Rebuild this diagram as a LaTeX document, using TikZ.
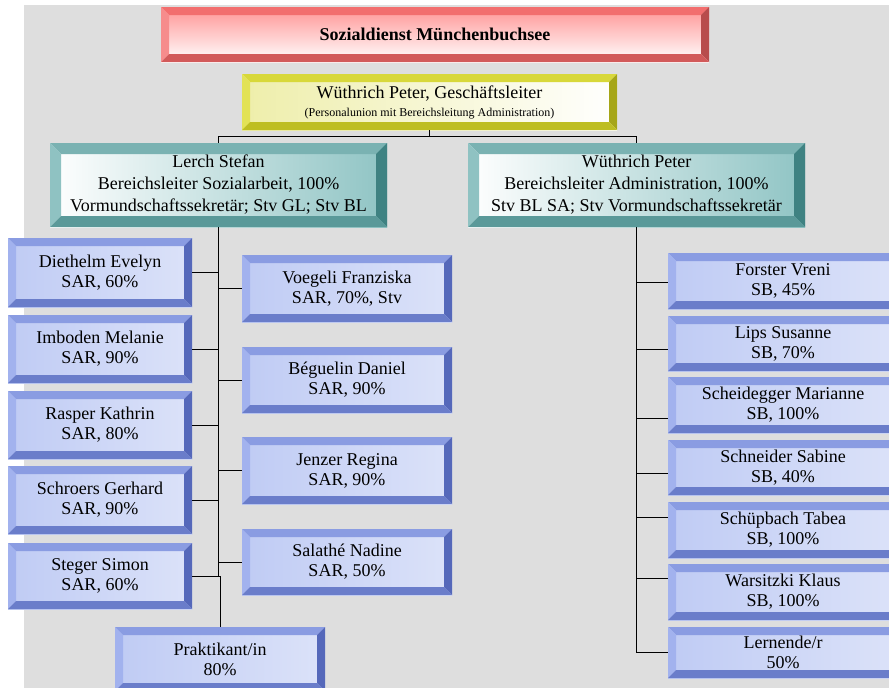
\documentclass[tikz,border=0pt]{standalone}
\usepackage{fontspec}
\setmainfont{Liberation Serif}
\usetikzlibrary{calc}
\definecolor{bg}{HTML}{DEDEDE}
% blue
\definecolor{bevBt}{HTML}{8A9CE2}
\definecolor{bevBl}{HTML}{A2B2EE}
\definecolor{bevBr}{HTML}{5568BA}
\definecolor{bevBb}{HTML}{6A7DCA}
\definecolor{faceB}{HTML}{BFCBF4}
% teal
\definecolor{bevTt}{HTML}{7AB2B2}
\definecolor{bevTl}{HTML}{8FC2C2}
\definecolor{bevTr}{HTML}{3F8282}
\definecolor{bevTb}{HTML}{5A9999}
\definecolor{faceT}{HTML}{8FC4C4}
% yellow
\definecolor{bevYt}{HTML}{D8D83A}
\definecolor{bevYl}{HTML}{E2E256}
\definecolor{bevYr}{HTML}{A6A618}
\definecolor{bevYb}{HTML}{BEBE22}
\definecolor{faceY}{HTML}{EEEEAA}
% red
\definecolor{bevRt}{HTML}{F26E6E}
\definecolor{bevRl}{HTML}{F68C8C}
\definecolor{bevRr}{HTML}{B84C4C}
\definecolor{bevRb}{HTML}{D25A5A}
\definecolor{faceR}{HTML}{FF9494}

\newcommand\bevelpp[5]{%
  \fill[#2] (path picture bounding box.north west) -- (path picture bounding box.north east)
     -- ([shift={(-#1,-#1)}]path picture bounding box.north east)
     -- ([shift={(#1,-#1)}]path picture bounding box.north west) -- cycle;
  \fill[#3] (path picture bounding box.north west) -- ([shift={(#1,-#1)}]path picture bounding box.north west)
     -- ([shift={(#1,#1)}]path picture bounding box.south west)
     -- (path picture bounding box.south west) -- cycle;
  \fill[#4] (path picture bounding box.north east) -- (path picture bounding box.south east)
     -- ([shift={(-#1,#1)}]path picture bounding box.south east)
     -- ([shift={(-#1,-#1)}]path picture bounding box.north east) -- cycle;
  \fill[#5] (path picture bounding box.south west) -- ([shift={(#1,#1)}]path picture bounding box.south west)
     -- ([shift={(-#1,#1)}]path picture bounding box.south east)
     -- (path picture bounding box.south east) -- cycle;
}

\tikzset{
  box/.style={rectangle, inner sep=0pt, align=center, text=black,
    font=\fontsize{18}{20}\selectfont},
  bluebox/.style={box, left color=faceB, middle color=white, right color=faceB!55!white,
    path picture={\bevelpp{8pt}{bevBt}{bevBl}{bevBr}{bevBb}}},
  tealbox/.style={box, left color=white, middle color=white, right color=faceT,
    font=\fontsize{18}{22}\selectfont,
    path picture={\bevelpp{11pt}{bevTt}{bevTl}{bevTr}{bevTb}}},
  yellowbox/.style={box, left color=faceY, middle color=white, right color=white,
    path picture={\bevelpp{8pt}{bevYt}{bevYl}{bevYr}{bevYb}}},
  redbox/.style={box, top color=faceR, bottom color=white,
    font=\fontsize{18}{20}\selectfont\bfseries,
    path picture={\bevelpp{8pt}{bevRt}{bevRl}{bevRr}{bevRb}}},
  leftbox/.style={bluebox, minimum width=184pt},
  midbox/.style={bluebox, minimum width=210pt},
  rightbox/.style={bluebox, minimum width=230pt},
  conn/.style={draw=black, line width=1pt},
}

\begin{document}
\begin{tikzpicture}[x=1pt, y=-1pt]
\useasboundingbox (0,0) rectangle (889,688);
\fill[white] (0,0) rectangle (889,688);
\fill[bg] (24,5) rectangle (889,688);

% top
\node[redbox, minimum width=548pt, minimum height=55pt] (title) at (435,34.5) {Sozialdienst Münchenbuchsee};
\node[yellowbox, minimum width=375pt, minimum height=56pt] (gl) at (429.5,102)
  {Wüthrich Peter, Geschäftsleiter\\[-2pt]{\fontsize{12}{14}\selectfont (Personalunion mit Bereichsleitung Administration)}};
\node[tealbox, minimum width=337pt, minimum height=84pt] (lerch) at (218.5,185)
  {Lerch Stefan\\Bereichsleiter Sozialarbeit, 100\%\\Vormundschaftssekretär; Stv GL; Stv BL};
\node[tealbox, minimum width=337pt, minimum height=84pt] (adm) at (636.5,185)
  {Wüthrich Peter\\Bereichsleiter Administration, 100\%\\Stv BL SA; Stv Vormundschaftssekretär};

% left column
\node[leftbox, minimum height=69pt] (diethelm) at (100,272.5) {Diethelm Evelyn\\SAR, 60\%};
\node[leftbox, minimum height=68pt] (imboden) at (100,349) {Imboden Melanie\\SAR, 90\%};
\node[leftbox, minimum height=68pt] (rasper) at (100,425) {Rasper Kathrin\\SAR, 80\%};
\node[leftbox, minimum height=68pt] (schroers) at (100,500) {Schroers Gerhard\\SAR, 90\%};
\node[leftbox, minimum height=66pt] (steger) at (100,576) {Steger Simon\\SAR, 60\%};

% middle column
\node[midbox, minimum height=67pt] (voegeli) at (347,288.5) {Voegeli Franziska\\SAR, 70\%, Stv};
\node[midbox, minimum height=66pt] (beguelin) at (347,380) {Béguelin Daniel\\SAR, 90\%};
\node[midbox, minimum height=67pt] (jenzer) at (347,470.5) {Jenzer Regina\\SAR, 90\%};
\node[midbox, minimum height=66pt] (salathe) at (347,562) {Salathé Nadine\\SAR, 50\%};
\node[midbox, minimum height=64pt] (prakt) at (220,659) {Praktikant/in\\80\%};

% right column
\node[rightbox, minimum height=56pt] (forster) at (783,281) {Forster Vreni\\SB, 45\%};
\node[rightbox, minimum height=55pt] (lips) at (783,343.5) {Lips Susanne\\SB, 70\%};
\node[rightbox, minimum height=56pt] (scheid) at (783,405) {Scheidegger Marianne\\SB, 100\%};
\node[rightbox, minimum height=55pt] (schneider) at (783,467.5) {Schneider Sabine\\SB, 40\%};
\node[rightbox, minimum height=56pt] (schuepbach) at (783,530) {Schüpbach Tabea\\SB, 100\%};
\node[rightbox, minimum height=56pt] (warsitzki) at (783,592) {Warsitzki Klaus\\SB, 100\%};
\node[rightbox, minimum height=51pt] (lernende) at (783,652.5) {Lernende/r\\50\%};

% connectors top
\draw[conn] (gl.south) -- ++(0,6) coordinate (hub);
\draw[conn] (lerch.north) |- (hub) -| (adm.north);

% left spine
\draw[conn] (lerch.south) -- (lerch.south |- steger.east) coordinate (sj);
\foreach \b in {diethelm,imboden,rasper,schroers,steger}
  \draw[conn] (\b.east) -- (\b.east -| lerch.south);
\foreach \b in {voegeli,beguelin,jenzer,salathe}
  \draw[conn] (\b.west) -- (\b.west -| lerch.south);
\draw[conn] (sj) -| (prakt.north);

% right spine
\draw[conn] (adm.south) -- (adm.south |- lernende.west);
\foreach \b/\d in {forster/-1,lips/-5.5,scheid/-13,schneider/-5.5,schuepbach/13,warsitzki/14}
  \draw[conn] ([yshift=\d pt]\b.west) -- ([yshift=\d pt]\b.west -| adm.south);
\draw[conn] (lernende.west) -- (lernende.west -| adm.south);
\end{tikzpicture}
\end{document}
